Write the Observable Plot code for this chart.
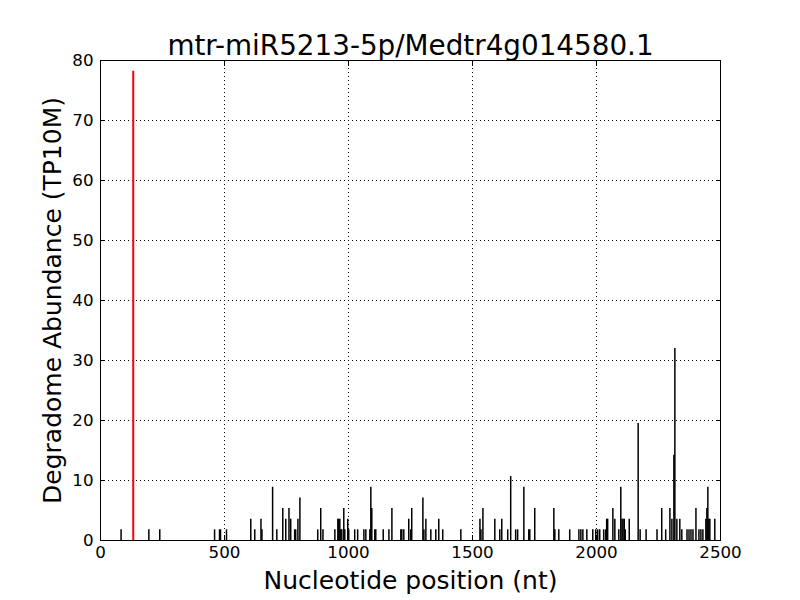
<!DOCTYPE html>
<html><head><meta charset="utf-8">
<script src="https://cdn.jsdelivr.net/npm/d3@7"></script>
<script src="https://cdn.jsdelivr.net/npm/@observablehq/plot@0.6"></script>
<style>body{margin:0;background:#fff;} svg{display:block;}</style>
</head><body><div id="chart"></div>
<script>
const title = "mtr-miR5213-5p/Medtr4g014580.1";
const xLabel = "Nucleotide position (nt)";
const yLabel = "Degradome Abundance (TP10M)";
const xTicks = [0, 500, 1000, 1500, 2000, 2500];
const yTicks = [0, 10, 20, 30, 40, 50, 60, 70, 80];

const positions = [83,195,239,460,480,484,508,606,622,647,651,694,711,735,747,760,767,783,787,796,804,
876,888,897,945,957,961,965,969,973,981,985,997,1001,1025,1037,1062,1070,1086,1090,1094,1106,1110,1140,
1163,1175,1211,1215,1223,1243,1251,1255,1300,1304,1312,1332,1352,1364,1380,1453,1530,1534,1542,1590,
1610,1618,1642,1654,1674,1682,1707,1727,1731,1751,1828,1832,1848,1892,1929,1937,1945,1961,1985,1997,
2005,2013,2029,2037,2041,2045,2066,2074,2090,2098,2103,2107,2112,2116,2132,2168,2176,2200,2244,2263,
2279,2296,2304,2312,2316,2324,2336,2344,2365,2373,2381,2389,2401,2413,2421,2429,2441,2445,2449,2453,2457,2477];
const abundances = [1.78,1.78,1.78,1.78,1.78,1.78,1.78,3.55,1.78,3.55,1.78,8.88,1.78,5.33,3.55,5.33,3.55,1.78,1.78,3.55,7.1,
1.78,5.33,1.78,1.78,3.55,3.55,3.55,1.78,1.78,5.33,1.78,3.55,1.78,1.78,1.78,1.78,1.78,1.78,8.88,5.33,1.78,1.78,1.78,
1.78,5.33,1.78,1.78,1.78,3.55,1.78,5.33,7.1,1.78,3.55,1.78,1.78,3.55,1.78,1.78,3.55,1.78,5.33,3.55,
1.78,3.55,1.78,10.66,1.78,1.78,8.88,1.78,1.78,5.33,5.33,1.78,1.78,1.78,1.78,1.78,1.78,1.78,1.78,1.78,
1.78,1.78,1.78,1.78,3.55,3.55,5.33,3.55,1.78,8.88,3.55,3.55,3.55,1.78,3.55,19.5,1.78,1.78,1.78,5.33,
1.78,5.33,3.55,14.2,32.0,3.55,3.55,1.78,1.78,1.78,1.78,1.78,5.33,1.78,1.78,1.78,3.55,5.33,8.88,3.55,3.55,3.55];
const cleavePositions = [132];
const cleaveAbundances = [78.2];

const spikes = positions.map((p, i) => ({p, a: abundances[i]}));
const cleave = cleavePositions.map((p, i) => ({p, a: cleaveAbundances[i]}));

const font = "DejaVu Sans";
const chart = Plot.plot({
  width: 800, height: 600,
  marginLeft: 100, marginRight: 80, marginTop: 60, marginBottom: 60,
  style: {fontFamily: font, background: "white", color: "black"},
  x: {domain: [0, 2500]},
  y: {domain: [0, 80]},
  marks: [
    Plot.gridX(xTicks, {stroke: "black", strokeOpacity: 1, strokeDasharray: "1,3", strokeWidth: 1}),
    Plot.gridY(yTicks, {stroke: "black", strokeOpacity: 1, strokeDasharray: "1,3", strokeWidth: 1}),
    Plot.ruleX(spikes, {x: "p", y1: 0, y2: "a", stroke: "black", strokeWidth: 1.5}),
    Plot.ruleX(cleave, {x: "p", y1: 0, y2: "a", stroke: "red", strokeWidth: 2}),
    Plot.frame({stroke: "black", strokeWidth: 1}),
    Plot.axisX(xTicks, {anchor: "bottom", tickSize: -5, tickPadding: 11, fontSize: 16.7, tickFormat: "d", label: null}),
    Plot.axisX(xTicks, {anchor: "top", tickSize: -5, tickFormat: () => "", label: null}),
    Plot.axisY(yTicks, {anchor: "left", tickSize: -5, tickPadding: 12, fontSize: 16.7, tickFormat: "d", label: null}),
    Plot.axisY(yTicks, {anchor: "right", tickSize: -5, tickFormat: () => "", label: null}),
    Plot.text([title], {frameAnchor: "top", lineAnchor: "bottom", dy: -6, fontSize: 27.8, fill: "black"}),
    Plot.text([xLabel], {frameAnchor: "bottom", lineAnchor: "top", dy: 31, fontSize: 25, fill: "black"}),
    Plot.text([yLabel], {frameAnchor: "left", rotate: -90, textAnchor: "middle", dx: -48, fontSize: 25, fill: "black"})
  ]
});
document.getElementById("chart").append(chart);
</script></body></html>
